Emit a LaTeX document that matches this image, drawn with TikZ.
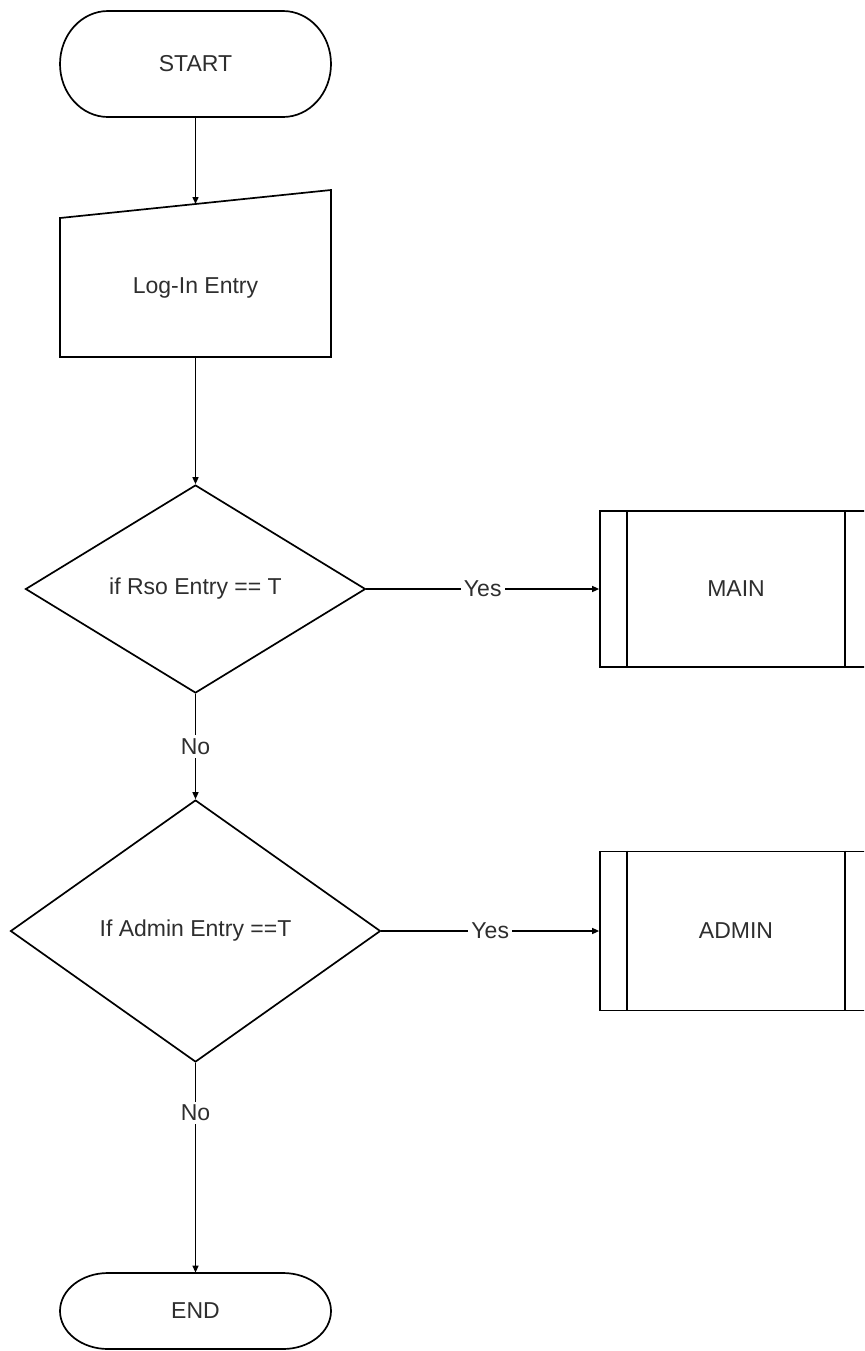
\documentclass[tikz,border=0pt]{standalone}
\usepackage{fontspec}
\setmainfont{Liberation Sans}
\usetikzlibrary{shapes.geometric,arrows.meta,calc}
\begin{document}
\begin{tikzpicture}[x=0.5pt,y=-0.5pt,
  every node/.style={font=\fontsize{11.5}{14}\selectfont, text=black!82},
  outline/.style={draw=black, line width=0.85pt},
  holder/.style={rectangle, inner sep=0pt},
  decision/.style={diamond, outline, inner sep=0pt},
  subproc/.style={rectangle, outline, inner sep=0pt, minimum width=136pt},
  flow/.style={draw=black, line width=0.7pt, -{Triangle[length=3.5pt,width=3pt]}},
  tag/.style={fill=white, inner sep=1.5pt}]
\useasboundingbox (0,0) rectangle (864,1351);
\clip (0,0) rectangle (864,1351);

% terminal outlines (elliptic ends)
\draw[outline] (108,11) -- (283,11)
  arc[start angle=90,end angle=-90,x radius=24pt,y radius=26.5pt]
  -- (108,117)
  arc[start angle=270,end angle=90,x radius=24pt,y radius=26.5pt] -- cycle;
\node[holder, minimum width=135.5pt, minimum height=53pt] (start) at (195.5,64) {START};

\draw[outline] (108,1273) -- (283,1273)
  arc[start angle=90,end angle=-90,x radius=24pt,y radius=19pt]
  -- (108,1349)
  arc[start angle=270,end angle=90,x radius=24pt,y radius=19pt] -- cycle;
\node[holder, minimum width=135.5pt, minimum height=38pt] (end) at (195.5,1311) {END};

% manual input
\draw[outline] (60,218) -- (331,190) -- (331,357) -- (60,357) -- cycle;
\node[holder, minimum width=135.5pt, minimum height=69.5pt] (login) at (195.5,287.5) {Log-In Entry};
\coordinate (login-top) at (195.5,204);

% decisions
\node[decision, minimum width=170pt, minimum height=104pt,
      label={center:if Rso Entry == T}] (d1) at (195.5,589) {};
\node[decision, minimum width=185pt, minimum height=131pt,
      label={center:If Admin Entry ==T}] (d2) at (195.5,931) {};

% predefined processes
\node[subproc, minimum height=78pt] (main) at (736,589) {MAIN};
\node[subproc, minimum height=79.5pt] (admin) at (736,931) {ADMIN};
\foreach \p in {main,admin}{
  \draw[outline] ($(\p.north west)+(28,0)$) -- ($(\p.south west)+(28,0)$);
  \draw[outline] ($(\p.north east)+(-28,0)$) -- ($(\p.south east)+(-28,0)$);
}

% connectors
\draw[flow] (start.south) -- (login-top);
\draw[flow] (login.south) -- (d1.north);
\draw[flow] (d1.east) -- node[tag]{Yes} (main.west);
\draw[flow] (d1.south) -- node[tag]{No} (d2.north);
\draw[flow] (d2.east) -- node[tag]{Yes} (admin.west);
\draw[flow] (d2.south) -- node[tag, pos=0.237]{No} (end.north);
\end{tikzpicture}
\end{document}
